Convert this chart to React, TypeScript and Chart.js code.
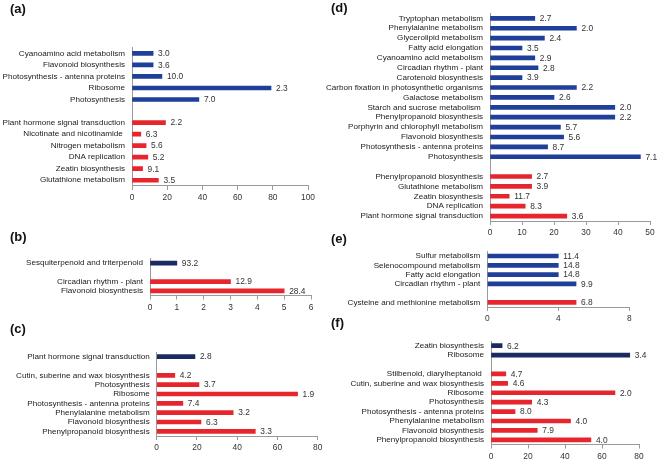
import React, { useEffect, useRef } from "react";
import { Chart, registerables } from "chart.js";
Chart.register(...registerables);

const PAGE_W = 658;
const PAGE_H = 459;
const FONT = '"Liberation Sans", Arial, sans-serif';

// ---------- (a) ----------
const aUpCategories = ["Cyanoamino acid metabolism", "Flavonoid biosynthesis", "Photosynthesis - antenna proteins", "Ribosome", "Photosynthesis"];
const aUpValues = [12, 12, 17, 79, 38];
const aUpLabels = ["3.0", "3.6", "10.0", "2.3", "7.0"];
const aDownCategories = ["Plant hormone signal transduction", "Nicotinate and nicotinamide ", "Nitrogen metabolism", "DNA replication", "Zeatin biosynthesis", "Glutathione metabolism"];
const aDownValues = [19, 5, 8, 9, 6, 15];
const aDownLabels = ["2.2", "6.3", "5.6", "5.2", "9.1", "3.5"];
const aTicks = [0, 20, 40, 60, 80, 100];

// ---------- (b) ----------
const bUpCategories = ["Sesquiterpenoid and triterpenoid"];
const bUpValues = [1];
const bUpLabels = ["93.2"];
const bDownCategories = ["Circadian rhythm - plant", "Flavonoid biosynthesis"];
const bDownValues = [3, 5];
const bDownLabels = ["12.9", "28.4"];
const bTicks = [0, 1, 2, 3, 4, 5, 6];

// ---------- (c) ----------
const cUpCategories = ["Plant hormone signal transduction"];
const cUpValues = [19];
const cUpLabels = ["2.8"];
const cDownCategories = ["Cutin, suberine and wax biosynthesis", "Photosynthesis", "Ribosome", "Photosynthesis - antenna proteins", "Phenylalanine metabolism", "Flavonoid biosynthesis", "Phenylpropanoid biosynthesis"];
const cDownValues = [9, 21, 70, 13, 38, 22, 49];
const cDownLabels = ["4.2", "3.7", "1.9", "7.4", "3.2", "6.3", "3.3"];
const cTicks = [0, 20, 40, 60, 80];

// ---------- (d) ----------
const dUpCategories = ["Tryptophan metabolism", "Phenylalanine metabolism", "Glycerolipid metabolism", "Fatty acid elongation", "Cyanoamino acid metabolism", "Circadian rhythm - plant", "Carotenoid biosynthesis", "Carbon fixation in photosynthetic organisms", "Galactose metabolism", "Starch and sucrose metabolism ", "Phenylpropanoid biosynthesis", "Porphyrin and chlorophyll metabolism", "Flavonoid biosynthesis", "Photosynthesis - antenna proteins", "Photosynthesis"];
const dUpValues = [14, 27, 17, 10, 14, 15, 10, 27, 20, 39, 39, 22, 23, 18, 47];
const dUpLabels = ["2.7", "2.0", "2.4", "3.5", "2.9", "2.8", "3.9", "2.2", "2.6", "2.0", "2.2", "5.7", "5.6", "8.7", "7.1"];
const dDownCategories = ["Phenylpropanoid biosynthesis", "Glutathione metabolism", "Zeatin biosynthesis", "DNA replication", "Plant hormone signal transduction"];
const dDownValues = [13, 13, 6, 11, 24];
const dDownLabels = ["2.7", "3.9", "11.7", "8.3", "3.6"];
const dTicks = [0, 10, 20, 30, 40, 50];

// ---------- (e) ----------
const eUpCategories = ["Sulfur metabolism", "Selenocompound metabolism", "Fatty acid elongation", "Circadian rhythm - plant"];
const eUpValues = [4, 4, 4, 5];
const eUpLabels = ["11.4", "14.8", "14.8", "9.9"];
const eDownCategories = ["Cysteine and methionine metabolism"];
const eDownValues = [5];
const eDownLabels = ["6.8"];
const eTicks = [0, 4, 8];

// ---------- (f) ----------
const fUpCategories = ["Zeatin biosynthesis", "Ribosome"];
const fUpValues = [6, 75];
const fUpLabels = ["6.2", "3.4"];
const fDownCategories = ["Stilbenoid, diarylheptanoid ", "Cutin, suberine and wax biosynthesis", "Ribosome", "Photosynthesis", "Photosynthesis - antenna proteins", "Phenylalanine metabolism", "Flavonoid biosynthesis", "Phenylpropanoid biosynthesis"];
const fDownValues = [8, 9, 67, 22, 13, 43, 25, 54];
const fDownLabels = ["4.7", "4.6", "2.0", "4.3", "8.0", "4.0", "7.9", "4.0"];
const fTicks = [0, 20, 40, 60, 80];

const BLUE = "#1f3f99";
const NAVY = "#1b2a60";
const RED = "#e6262c";
const AXIS = "#9a9a9a";
const FS = 8.1;

type Spec = {
  title: string; tx: number; ty: number;
  upCats: string[]; upVals: number[]; upLabels: string[];
  downCats: string[]; downVals: number[]; downLabels: string[];
  ticks: number[]; blue: string;
  left: number; right: number; top: number; bottom: number;
};

const panels: Spec[] = [
  { title: "(a)", tx: 10, ty: 2, upCats: aUpCategories, upVals: aUpValues, upLabels: aUpLabels, downCats: aDownCategories, downVals: aDownValues, downLabels: aDownLabels, ticks: aTicks, blue: BLUE, left: 132, right: 308, top: 47.6, bottom: 186 },
  { title: "(b)", tx: 10, ty: 230, upCats: bUpCategories, upVals: bUpValues, upLabels: bUpLabels, downCats: bDownCategories, downVals: bDownValues, downLabels: bDownLabels, ticks: bTicks, blue: NAVY, left: 150, right: 311, top: 258.5, bottom: 295.5 },
  { title: "(c)", tx: 10, ty: 322, upCats: cUpCategories, upVals: cUpValues, upLabels: cUpLabels, downCats: cDownCategories, downVals: cDownValues, downLabels: cDownLabels, ticks: cTicks, blue: NAVY, left: 156.7, right: 317.7, top: 352, bottom: 436 },
  { title: "(d)", tx: 331, ty: 1, upCats: dUpCategories, upVals: dUpValues, upLabels: dUpLabels, downCats: dDownCategories, downVals: dDownValues, downLabels: dDownLabels, ticks: dTicks, blue: BLUE, left: 490, right: 650, top: 13.4, bottom: 221 },
  { title: "(e)", tx: 331, ty: 232, upCats: eUpCategories, upVals: eUpValues, upLabels: eUpLabels, downCats: eDownCategories, downVals: eDownValues, downLabels: eDownLabels, ticks: eTicks, blue: BLUE, left: 487.3, right: 629.3, top: 251.4, bottom: 307 },
  { title: "(f)", tx: 331, ty: 316, upCats: fUpCategories, upVals: fUpValues, upLabels: fUpLabels, downCats: fDownCategories, downVals: fDownValues, downLabels: fDownLabels, ticks: fTicks, blue: NAVY, left: 491, right: 639, top: 341, bottom: 444.5 },
];

const valueLabelPlugin = {
  id: "valueLabels",
  afterDatasetsDraw(chart: any, _args: any, opts: any) {
    const labels: string[] = opts.labels || [];
    const meta = chart.getDatasetMeta(0);
    const ctx = chart.ctx;
    ctx.save();
    ctx.font = `${FS + 0.3}px ${FONT}`;
    ctx.fillStyle = "#333333";
    ctx.textAlign = "left";
    ctx.textBaseline = "middle";
    meta.data.forEach((el: any, i: number) => {
      if (!labels[i]) return;
      ctx.fillText(labels[i], el.x + 5, el.y + 0.5);
    });
    ctx.restore();
  },
};

function Panel({ spec }: { spec: Spec }) {
  const ref = useRef<HTMLCanvasElement>(null);
  useEffect(() => {
    const cats = [...spec.upCats, "", ...spec.downCats];
    const vals = [...spec.upVals, null, ...spec.downVals];
    const labels = [...spec.upLabels, "", ...spec.downLabels];
    const colors = [...spec.upCats.map(() => spec.blue), "rgba(0,0,0,0)", ...spec.downCats.map(() => RED)];
    const xAxisH = PAGE_H - spec.bottom;
    const chart = new Chart(ref.current as HTMLCanvasElement, {
      type: "bar",
      data: {
        labels: cats,
        datasets: [{ data: vals as any, backgroundColor: colors, barThickness: 4, borderWidth: 0 }],
      },
      plugins: [valueLabelPlugin as any],
      options: {
        indexAxis: "y",
        responsive: false,
        animation: false,
        devicePixelRatio: 1,
        layout: { padding: { left: 0, top: spec.top, right: PAGE_W - spec.right, bottom: 0 } },
        plugins: {
          legend: { display: false },
          tooltip: { enabled: false },
          valueLabels: { labels },
        } as any,
        scales: {
          x: {
            min: spec.ticks[0],
            max: spec.ticks[spec.ticks.length - 1],
            ticks: { stepSize: spec.ticks[1] - spec.ticks[0], color: "#333", font: { size: FS + 0.3, family: FONT }, padding: 3 },
            grid: { display: true, drawOnChartArea: false, drawTicks: true, tickLength: 4, color: AXIS },
            border: { display: true, color: AXIS, width: 1 },
            afterFit: (s: any) => {
              s.height = xAxisH;
              s.paddingLeft = 0; s.paddingRight = 0; s.paddingTop = 0; s.paddingBottom = 0;
            },
          },
          y: {
            ticks: { color: "#1a1a1a", font: { size: FS, family: FONT }, padding: 7, autoSkip: false },
            grid: { display: false, drawTicks: false },
            border: { display: true, color: AXIS, width: 1 },
            afterFit: (s: any) => {
              s.width = spec.left;
              s.paddingLeft = 0; s.paddingRight = 0; s.paddingTop = 0; s.paddingBottom = 0;
            },
          },
        },
      },
    });
    return () => chart.destroy();
  }, [spec]);
  return (
    <>
      <canvas
        ref={ref}
        width={PAGE_W}
        height={PAGE_H}
        style={{ position: "absolute", left: 0, top: 0, width: PAGE_W, height: PAGE_H }}
      />
      <div
        style={{
          position: "absolute", left: spec.tx, top: spec.ty, font: `bold 13px ${FONT}`,
          lineHeight: "13px", color: "#111",
        }}
      >
        {spec.title}
      </div>
    </>
  );
}

export default function App() {
  return (
    <div style={{ position: "absolute", left: 0, top: 0, width: PAGE_W, height: PAGE_H, background: "#fff", overflow: "hidden" }}>
      {panels.map((p, i) => (
        <Panel key={i} spec={p} />
      ))}
    </div>
  );
}
